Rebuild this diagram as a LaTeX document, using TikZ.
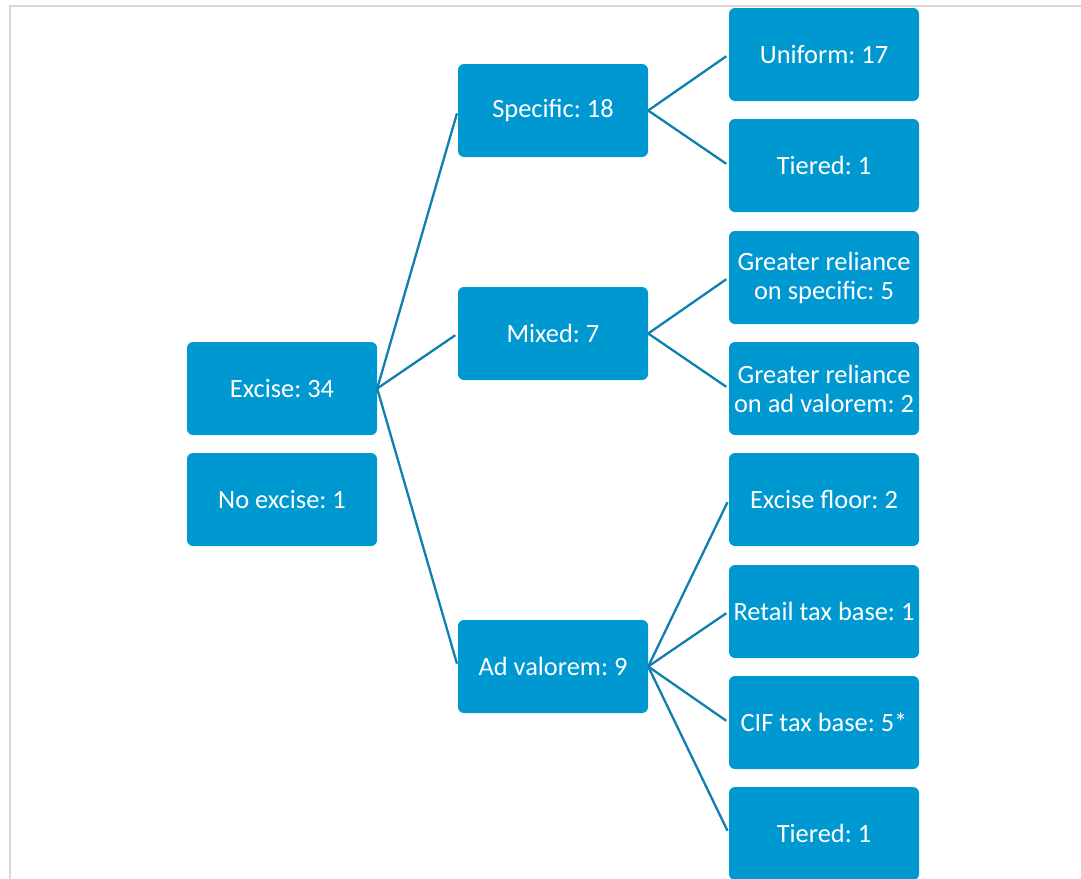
\documentclass[tikz,border=0pt]{standalone}
\usepackage{fontspec}
\setmainfont{Carlito}
\frenchspacing
\definecolor{boxblue}{RGB}{0,152,208}
\definecolor{linkblue}{RGB}{16,126,176}
\definecolor{framegray}{RGB}{217,217,217}
\begin{document}
\begin{tikzpicture}[x=1pt,y=-1pt,
  box/.style={rectangle, rounded corners=6pt, fill=boxblue, text=white,
    minimum width=190pt, minimum height=93pt, inner sep=2pt,
    align=center, font=\fontsize{26.4}{29}\selectfont},
  link/.style={draw=linkblue, line width=2.3pt, shorten >=3pt}]
\useasboundingbox (0,0) rectangle (1081,878);
\clip (0,0) rectangle (1081,878);
% outer frame (open to the right and bottom)
\draw[framegray, line width=2pt] (10,890) -- (10,6) -- (1090,6);

% level 1
\node[box] (excise)   at (282,388.5) {Excise: 34};
\node[box] (noexcise) at (282,499.5) {No excise: 1};
% level 2
\node[box] (specific) at (553,110.5) {Specific: 18};
\node[box] (mixed)    at (553,333.5) {Mixed: 7};
\node[box] (adval)    at (553,666.5) {Ad valorem: 9};
% level 3
\node[box] (uniform)  at (824,54.5)  {Uniform: 17};
\node[box] (tiereda)  at (824,165.5) {Tiered: 1};
\node[box] (grspec)   at (824,277.5) {Greater reliance\\on specific: 5};
\node[box] (gradval)  at (824,388.5) {Greater reliance\\on ad valorem: 2};
\node[box] (floor)    at (824,499.5) {Excise floor: 2};
\node[box] (retail)   at (824,611.5) {Retail tax base: 1};
\node[box] (cif)      at (824,722.5) {CIF tax base: 5*};
\node[box] (tieredb)  at (824,833.5) {Tiered: 1};

% connectors
\foreach \c in {specific,mixed,adval}
  \draw[link] (excise.east) -- (\c.west);
\foreach \c in {uniform,tiereda}
  \draw[link] (specific.east) -- (\c.west);
\foreach \c in {grspec,gradval}
  \draw[link] (mixed.east) -- (\c.west);
\foreach \c in {floor,retail,cif,tieredb}
  \draw[link] (adval.east) -- (\c.west);
\end{tikzpicture}
\end{document}
